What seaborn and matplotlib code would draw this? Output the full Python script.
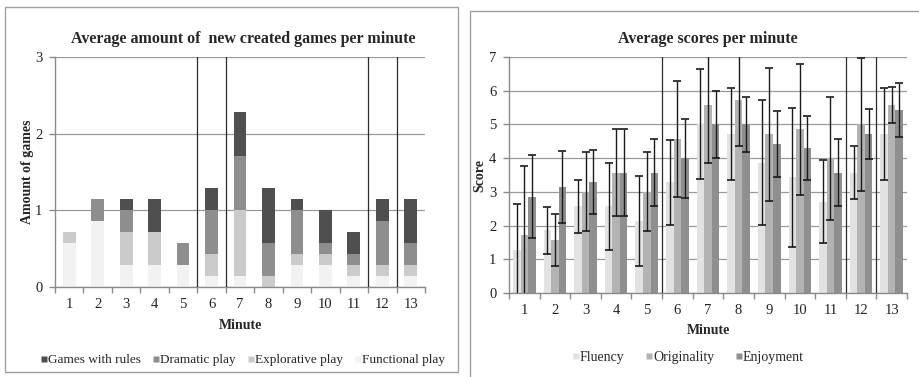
import matplotlib
matplotlib.use("Agg")
import matplotlib.pyplot as plt
import seaborn as sns
import numpy as np
import pandas as pd
from matplotlib.lines import Line2D
from matplotlib.patches import Rectangle

# ---------------- data ----------------
minutes = [str(i) for i in range(1, 14)]

# left chart: average amount of new created games per minute (stacked)
functional = [0.571, 0.857, 0.286, 0.286, 0.286, 0.143, 0.143, 0.0, 0.286, 0.286, 0.143, 0.143, 0.143]
explorative = [0.143, 0.0, 0.429, 0.429, 0.0, 0.286, 0.857, 0.143, 0.143, 0.143, 0.143, 0.143, 0.143]
dramatic = [0.0, 0.286, 0.286, 0.0, 0.286, 0.571, 0.714, 0.429, 0.571, 0.143, 0.143, 0.571, 0.286]
rules = [0.0, 0.0, 0.143, 0.429, 0.0, 0.286, 0.571, 0.714, 0.143, 0.429, 0.286, 0.286, 0.571]
left_series = ["Games with rules", "Dramatic play", "Explorative play", "Functional play"]

# right chart: average scores per minute (mean and sd)
fluency = [1.29, 1.86, 2.57, 2.57, 2.14, 3.29, 5.00, 4.71, 3.86, 3.43, 2.71, 3.57, 4.71]
fluency_sd = [1.36, 0.69, 0.79, 1.28, 1.34, 1.26, 1.63, 1.37, 1.85, 2.06, 1.24, 0.79, 1.37]
originality = [1.71, 1.57, 3.00, 3.57, 3.00, 4.57, 5.57, 5.71, 4.71, 4.86, 4.00, 5.00, 5.57]
originality_sd = [2.06, 0.78, 1.17, 1.28, 1.17, 1.71, 1.70, 1.36, 1.97, 1.94, 1.82, 1.98, 0.53]
enjoyment = [2.86, 3.14, 3.29, 3.57, 3.57, 4.00, 5.00, 5.00, 4.43, 4.29, 3.57, 4.71, 5.43]
enjoyment_sd = [1.23, 1.07, 0.96, 1.28, 0.99, 1.17, 1.00, 0.81, 0.98, 0.95, 0.99, 0.75, 0.79]
right_series = ["Fluency", "Originality", "Enjoyment"]

# ---------------- style ----------------
sns.set_theme(style="white")
plt.rcParams["font.family"] = ["Liberation Serif", "DejaVu Serif"]

left_colors = {"Games with rules": "#4f4f4f", "Dramatic play": "#8e8e8e",
               "Explorative play": "#cbcbcb", "Functional play": "#f2f2f2"}
right_colors = {"Fluency": "#e2e2e2", "Originality": "#b3b3b3", "Enjoyment": "#8f8f8f"}
axis_col = "#8a8a8a"
grid_col = "#9a9a9a"
sep_col = "#2a2a2a"

fig = plt.figure(figsize=(9.2, 3.77), dpi=100)

# panel frames
fig.patches.append(Rectangle((5 / 920, 1 - 372 / 377), 453 / 920, 365 / 377,
                             transform=fig.transFigure, fill=False,
                             edgecolor="#a0a0a0", linewidth=1.0))
fig.patches.append(Rectangle((470 / 920, 1 - 380 / 377), 460 / 920, 369 / 377,
                             transform=fig.transFigure, fill=False,
                             edgecolor="#a0a0a0", linewidth=1.0))

ax1 = fig.add_axes([55 / 920, 1 - 287 / 377, 370 / 920, 230 / 377])
ax2 = fig.add_axes([509 / 920, 1 - 293 / 377, 398 / 920, 236 / 377])


def style_axes(ax, ymax, seps):
    ax.set_xlim(-0.5, len(minutes) - 0.5)
    ax.set_ylim(0, ymax)
    ax.set_yticks(range(0, ymax + 1))
    ax.yaxis.grid(True, color=grid_col, linewidth=0.9)
    ax.set_axisbelow(True)
    for s in ["top", "right"]:
        ax.spines[s].set_visible(False)
    for s in ["left", "bottom"]:
        ax.spines[s].set_color(axis_col)
        ax.spines[s].set_linewidth(1.0)
    ax.set_xticks(range(len(minutes)))
    ax.set_xticklabels(minutes)
    ax.set_xticks(np.arange(-0.5, len(minutes), 1.0), minor=True)
    ax.tick_params(axis="x", which="major", length=0, labelsize=10.5, pad=8, colors="#222222")
    ax.tick_params(axis="x", which="minor", length=4, direction="out", color=axis_col, width=1.0)
    ax.tick_params(axis="y", which="major", length=4, direction="out", color=axis_col,
                   width=1.0, labelsize=10.5, pad=5, labelcolor="#222222")
    ax.tick_params(axis="both", left=True, bottom=True, which="both")
    for xs in seps:
        ax.axvline(xs, color=sep_col, linewidth=0.9, zorder=5)


# ---------------- left chart: stacked bars ----------------
stack_order = [("Games with rules", [functional, explorative, dramatic, rules]),
               ("Dramatic play", [functional, explorative, dramatic]),
               ("Explorative play", [functional, explorative]),
               ("Functional play", [functional])]
for name, parts in stack_order:
    cum = np.sum(np.array(parts), axis=0)
    df = pd.DataFrame({"Minute": minutes, "value": cum})
    sns.barplot(data=df, x="Minute", y="value", color=left_colors[name],
                saturation=1, width=0.45, ax=ax1, linewidth=0, errorbar=None)

style_axes(ax1, 3, [4.5, 5.5, 10.5, 11.5])
ax1.set_title("Average amount of  new created games per minute", fontsize=11.5,
              fontweight="bold", pad=10, x=0.51)
ax1.set_xlabel("Minute", fontsize=10, fontweight="bold", labelpad=6)
ax1.set_ylabel("Amount of games", fontsize=10, fontweight="bold")
ax1.yaxis.set_label_coords(-0.058, 0.5)

h1 = [Line2D([], [], marker="s", linestyle="none", markersize=5,
             markerfacecolor=left_colors[n], markeredgecolor="none") for n in left_series]
fig.legend(h1, left_series, loc="center", bbox_to_anchor=(243 / 920, 1 - 360 / 377),
           ncol=4, frameon=False, fontsize=9.5, handlelength=0.5, handletextpad=0.05,
           columnspacing=0.9)

# ---------------- right chart: grouped bars with error bars ----------------
long = pd.DataFrame({
    "Minute": minutes * 3,
    "series": sum([[s] * len(minutes) for s in right_series], []),
    "value": fluency + originality + enjoyment,
})
sns.barplot(data=long, x="Minute", y="value", hue="series", hue_order=right_series,
            palette=right_colors, saturation=1, width=0.74, ax=ax2, linewidth=0,
            errorbar=None, legend=False)

# bar centres/heights from the drawn patches (minute-major, series-minor after sort)
bars = sorted([p for p in ax2.patches if p.get_height() > 0], key=lambda p: p.get_x())
xs = np.array([p.get_x() + p.get_width() / 2 for p in bars])
heights = np.array([p.get_height() for p in bars])
ordered_sd = []
for i in range(len(minutes)):
    ordered_sd.extend([fluency_sd[i], originality_sd[i], enjoyment_sd[i]])
ax2.errorbar(xs, heights, yerr=ordered_sd, fmt="none", ecolor="#1a1a1a",
             elinewidth=1.0, capsize=3, capthick=1.2, zorder=6)

style_axes(ax2, 7, [4.5, 10.5, 11.5])
ax2.set_title("Average scores per minute", fontsize=11.5, fontweight="bold", pad=10)
ax2.set_xlabel("Minute", fontsize=10, fontweight="bold", labelpad=5)
ax2.set_ylabel("Score", fontsize=10, fontweight="bold")
ax2.yaxis.set_label_coords(-0.058, 0.5)

h2 = [Line2D([], [], marker="s", linestyle="none", markersize=5,
             markerfacecolor=right_colors[n], markeredgecolor="none") for n in right_series]
fig.legend(h2, right_series, loc="center", bbox_to_anchor=(688 / 920, 1 - 357 / 377),
           ncol=3, frameon=False, fontsize=10, handlelength=0.5, handletextpad=0.05,
           columnspacing=1.5)

fig.savefig("out.png", dpi=100)
